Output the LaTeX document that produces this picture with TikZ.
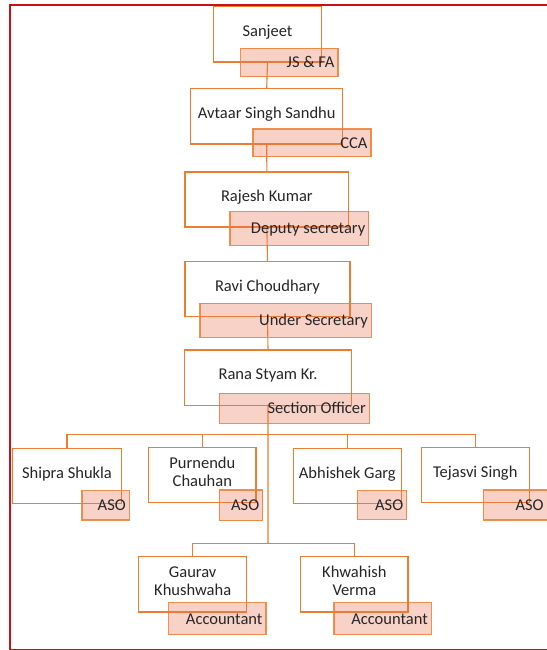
\documentclass[tikz,border=0pt]{standalone}
\usepackage{fontspec}
\setmainfont{Carlito}
\usetikzlibrary{calc}
\definecolor{orgline}{RGB}{237,125,49}
\definecolor{pinkfill}{RGB}{233,113,80}
\definecolor{framered}{RGB}{200,16,24}
\tikzset{
  x=1pt,y=-1pt,
  every node/.style={font=\fontsize{16.5}{18}\selectfont,text=black!85},
  link/.style={draw=orgline,line width=1.1pt},
  namebox/.style args={#1,#2}{
  draw=orgline,
  fill=white,
  line width=1.1pt,
  minimum width=#1pt,
  minimum height=#2pt,
  align=center,
  inner sep=0pt,
  text depth=7pt,
  },
  titlebox/.style args={#1,#2}{
  draw=orgline,
  draw opacity=.85,
  fill=pinkfill,
  fill opacity=.32,
  text opacity=1,
  line width=1.1pt,
  inner xsep=3.5pt,
  inner ysep=0pt,
  text width=#1pt,
  align=flush right,
  minimum height=#2pt,
  text height=10.6pt,
  text depth=0pt,
  }
}
\begin{document}
\begin{tikzpicture}
  \useasboundingbox (0,0) rectangle (546,650);
  \draw[framered,line width=1.8pt] (10,5) rectangle (556,649.5);

  % people
  \node [namebox={108.4,55.3}] (sanjeet)  at (267.5,34.35) {Sanjeet};
  \node [namebox={152,55.3}]   (avtaar)   at (266.7,116.35) {Avtaar Singh Sandhu};
  \node [namebox={163.7,55}]   (rajesh)   at (266.85,199.5) {Rajesh Kumar};
  \node [namebox={165,55.4}]   (ravi)     at (267.5,289) {Ravi Choudhary};
  \node [namebox={166.6,55.3}] (rana)     at (268,377.65) {Rana Styam Kr.};
  \node [namebox={108.6,54.6}] (shipra)   at (67,476) {Shipra Shukla};
  \node [namebox={107.3,55.4},text depth=6.5pt] (purnendu) at (202.35,475) {Purnendu\\Chauhan};
  \node [namebox={108,54.6}]   (abhishek) at (347.3,476) {Abhishek Garg};
  \node [namebox={108,55.4}]   (tejasvi)  at (475.3,475) {Tejasvi Singh};
  \node [namebox={108,55.3},text depth=6.5pt]   (gaurav)   at (192.7,584.35) {Gaurav\\Khushwaha};
  \node [namebox={107.3,55.3},text depth=6.5pt] (khwahish) at (354.35,584.35) {Khwahish\\Verma};

  \coordinate (b1) at (268,434.7);
  \coordinate (b2) at (268,543.3);
  \path[link] (sanjeet.south) -- (avtaar.north)
              (avtaar.south) -- (rajesh.north)
              (rajesh.south) -- (ravi.north)
              (ravi.south) -- (rana.north)
              (rana.south) -- (b2);
  \foreach \n in {shipra,purnendu,abhishek,tejasvi}
    \draw[link] (b1) -| (\n.north);
  \foreach \n in {gaurav,khwahish}
    \draw[link] (b2) -| (\n.north);

  % titles
  \node [titlebox={90.3,28.4}]  (jsfa)    at (289.35,62.5) {JS \& FA};
  \node [titlebox={111,27.7}]   (cca)     at (312,142.85) {CCA};
  \node [titlebox={131.7,33.6}] (deputy)  at (299.35,228.5) {Deputy secretary};
  \node [titlebox={164.3,34}]   (under)   at (285.65,320.3) {Under Secretary};
  \node [titlebox={143,30}]     (section) at (294.3,408.3) {Section Officer};
  \node [titlebox={40.3,29.3}]  (aso1)    at (105.65,505.35) {ASO};
  \node [titlebox={36.4,30.7}]  (aso2)    at (241,505.35) {ASO};
  \node [titlebox={42.4,28.6}]  (aso3)    at (382,505) {ASO};
  \node [titlebox={56.7,30}]    (aso4)    at (515.2,505) {ASO};
  \node [titlebox={90.3,32}]    (acc1)    at (217.35,618.7) {Accountant};
  \node [titlebox={90.3,32}]    (acc2)    at (382.65,618.7) {Accountant};
\end{tikzpicture}
\end{document}
